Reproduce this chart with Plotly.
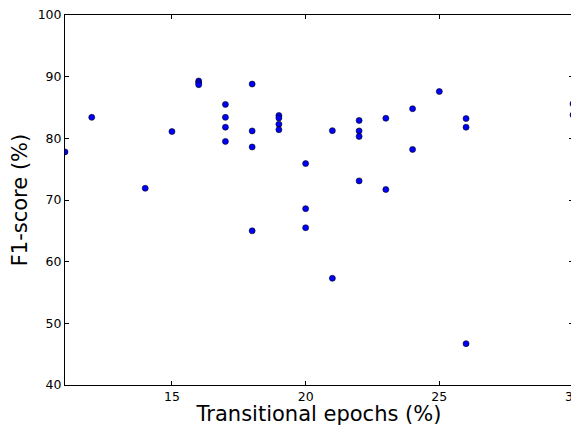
import plotly.graph_objects as go

epochs = [11, 12, 14, 15, 16, 16, 16, 17, 17, 17, 17, 18, 18, 18, 18,
          19, 19, 19, 19, 20, 20, 20, 21, 21, 22, 22, 22, 22, 23, 23,
          24, 24, 25, 26, 26, 26, 30, 30]
f1 = [77.8, 83.4, 71.9, 81.1, 89.3, 89.0, 88.7, 85.5, 83.4, 81.8, 79.5,
      88.8, 81.2, 78.6, 65.0, 83.7, 83.3, 82.3, 81.4, 75.9, 68.6, 65.5,
      81.25, 57.3, 82.9, 81.2, 80.3, 73.1, 83.25, 71.7, 84.8, 78.2, 87.6,
      83.2, 81.8, 46.7, 85.6, 83.8]

x_ticks = [15, 20, 25, 30]
y_ticks = [40, 50, 60, 70, 80, 90, 100]

fig = go.Figure(go.Scatter(
    x=epochs, y=f1, mode="markers",
    marker=dict(size=6, color="#0000ff", line=dict(color="black", width=0.6)),
    hoverinfo="x+y",
))

axis_common = dict(
    showgrid=False, zeroline=False, showline=True, linecolor="black", linewidth=1,
    ticks="inside", ticklen=4, tickwidth=1, tickcolor="black", mirror="allticks",
    tickfont=dict(family="DejaVu Sans", size=12.5, color="black"),
    automargin=False, ticklabeloverflow="allow",
)

# page body has an 8px default margin; figure sized to fill the remaining window
fig.update_layout(
    width=571, height=418,
    margin=dict(l=57, r=6, t=7, b=41),
    paper_bgcolor="white", plot_bgcolor="white",
    showlegend=False,
    xaxis=dict(range=[11, 30], tickvals=x_ticks,
               title=dict(text="Transitional epochs (%)",
                          font=dict(family="DejaVu Sans", size=21, color="black"),
                          standoff=3),
               **axis_common),
    yaxis=dict(range=[40, 100], tickvals=y_ticks,
               title=dict(text="F1-score (%)",
                          font=dict(family="DejaVu Sans", size=21, color="black"),
                          standoff=8),
               **axis_common),
)

fig.write_html("out.html")
